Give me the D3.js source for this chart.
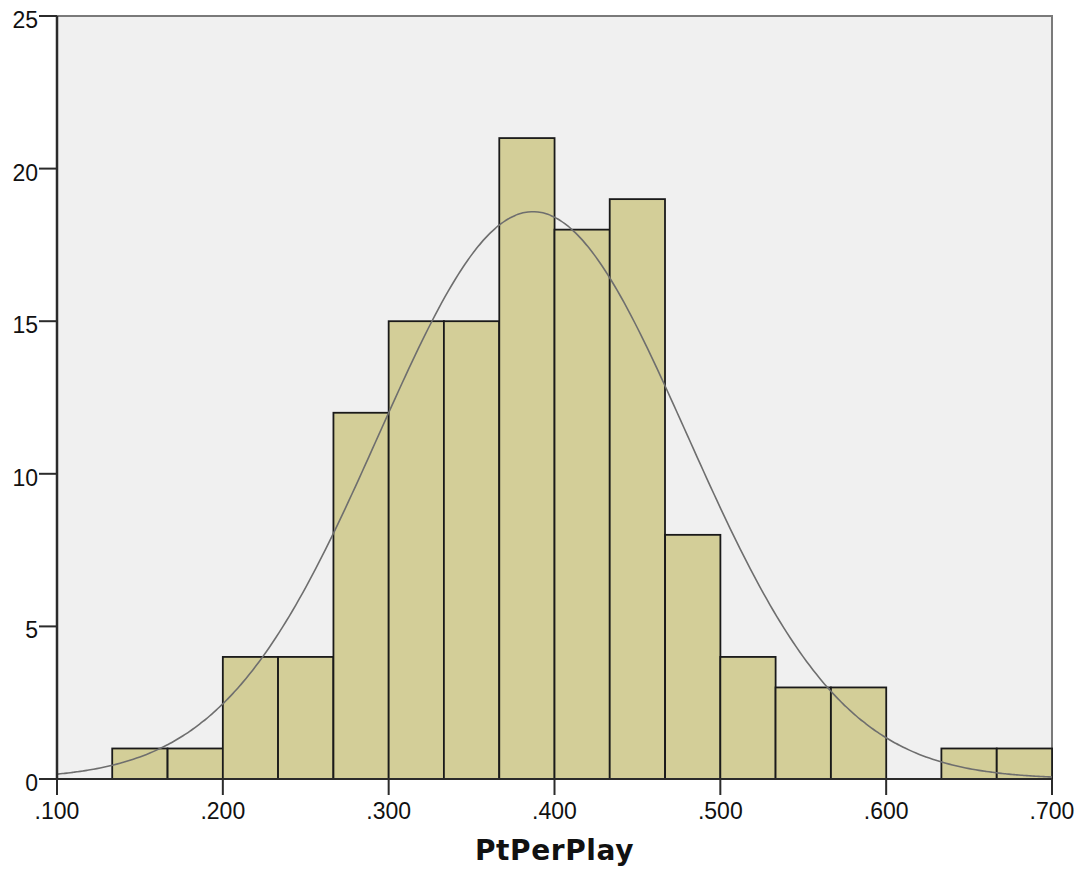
<!DOCTYPE html>
<html>
<head>
<meta charset="utf-8">
<script src="https://cdn.jsdelivr.net/npm/d3@7"></script>
<style>
  body { margin: 0; background: #ffffff; }
  svg { display: block; }
</style>
</head>
<body>
<div class="layout"></div>
<script>

// histogram data
var binStarts = [0.1333, 0.1667, 0.2, 0.2333, 0.2667, 0.3, 0.3333, 0.3667, 0.4, 0.4333, 0.4667, 0.5, 0.5333, 0.5667, 0.6, 0.6333, 0.6667]
var counts = [1, 1, 4, 4, 12, 15, 15, 21, 18, 19, 8, 4, 3, 3, 0, 1, 1]
var binWidth = 1 / 30

// normal curve summary values
var curveMean = 0.387
var curveSd = 0.093

var xTicks = [0.1, 0.2, 0.3, 0.4, 0.5, 0.6, 0.7]
var xTickLabels = [".100", ".200", ".300", ".400", ".500", ".600", ".700"]
var yTicks = [0, 5, 10, 15, 20, 25]
var xTitle = "PtPerPlay"

function makeHistogram () {
  var width = 1081
  var height = 872
  var left = 57, right = 1052, top = 16, bottom = 779

  var svg = d3.select("div.layout")
    .append("svg")
      .attr("width", width)
      .attr("height", height)

  var x = d3.scaleLinear()
    .domain([0.1, 0.7])
    .range([left, right])

  var y = d3.scaleLinear()
    .domain([0, 25])
    .range([bottom, top])

  // plot background
  svg.append("rect")
    .attr("x", left)
    .attr("y", top)
    .attr("width", right - left)
    .attr("height", bottom - top)
    .attr("fill", "#f0f0f0")

  // top and right frame
  svg.append("path")
    .attr("d", "M" + left + "," + top + "H" + right + "V" + bottom)
    .attr("fill", "none")
    .attr("stroke", "#7a7a7a")
    .attr("stroke-width", 2)

  // bars
  var bins = binStarts.map(function (d, i) {
    return { x0: d, x1: d + binWidth, count: counts[i] }
  }).filter(function (d) { return d.count > 0 })

  svg.append("g")
    .selectAll("rect")
    .data(bins)
    .enter()
    .append("rect")
    .attr("x", function (d) { return x(d.x0) })
    .attr("y", function (d) { return y(d.count) })
    .attr("width", function (d) { return x(d.x1) - x(d.x0) })
    .attr("height", function (d) { return y(0) - y(d.count) })
    .attr("fill", "#d3ce98")
    .attr("stroke", "#1a1a1a")
    .attr("stroke-width", 1.8)

  // normal curve scaled to counts
  var n = d3.sum(counts)
  var pts = d3.range(0.1, 0.7001, 0.002)
  var line = d3.line()
    .x(function (d) { return x(d) })
    .y(function (d) {
      var z = (d - curveMean) / curveSd
      return y(n * binWidth * Math.exp(-0.5 * z * z) / (curveSd * Math.sqrt(2 * Math.PI)))
    })
    .curve(d3.curveBasis)

  svg.append("path")
    .datum(pts)
    .attr("d", line)
    .attr("fill", "none")
    .attr("stroke", "#6e6e6e")
    .attr("stroke-width", 1.6)

  // x axis
  var xAxis = svg.append("g").attr("class", "xAxis")
  xAxis.append("line")
    .attr("x1", left).attr("x2", right)
    .attr("y1", bottom).attr("y2", bottom)
    .attr("stroke", "#2b2b2b")
    .attr("stroke-width", 2)
  xAxis.selectAll("line.tick")
    .data(xTicks)
    .enter()
    .append("line")
    .attr("class", "tick")
    .attr("x1", function (d) { return x(d) })
    .attr("x2", function (d) { return x(d) })
    .attr("y1", bottom)
    .attr("y2", bottom + 16)
    .attr("stroke", "#2b2b2b")
    .attr("stroke-width", 2)
  xAxis.selectAll("text")
    .data(xTicks)
    .enter()
    .append("text")
    .attr("x", function (d) { return x(d) })
    .attr("y", 819)
    .attr("text-anchor", "middle")
    .attr("font-family", "Liberation Sans, Arial, sans-serif")
    .attr("font-size", 23)
    .attr("fill", "#111")
    .text(function (d, i) { return xTickLabels[i] })

  // y axis
  var yAxis = svg.append("g").attr("class", "yAxis")
  yAxis.append("line")
    .attr("x1", left).attr("x2", left)
    .attr("y1", top).attr("y2", bottom)
    .attr("stroke", "#2b2b2b")
    .attr("stroke-width", 2.5)
  yAxis.selectAll("line.tick")
    .data(yTicks)
    .enter()
    .append("line")
    .attr("class", "tick")
    .attr("x1", left - 18)
    .attr("x2", left)
    .attr("y1", function (d) { return y(d) })
    .attr("y2", function (d) { return y(d) })
    .attr("stroke", "#2b2b2b")
    .attr("stroke-width", 2)
  yAxis.selectAll("text")
    .data(yTicks)
    .enter()
    .append("text")
    .attr("x", 38)
    .attr("y", function (d) { return y(d) + 12 })
    .attr("text-anchor", "end")
    .attr("font-family", "Liberation Sans, Arial, sans-serif")
    .attr("font-size", 23)
    .attr("fill", "#111")
    .text(function (d) { return d })

  // axis title
  svg.append("text")
    .attr("x", (left + right) / 2)
    .attr("y", 860)
    .attr("text-anchor", "middle")
    .attr("font-family", "DejaVu Sans, sans-serif")
    .attr("font-weight", "bold")
    .attr("font-size", 28)
    .attr("letter-spacing", 0.6)
    .attr("fill", "#111")
    .text(xTitle)
}

makeHistogram()
</script>
</body>
</html>
